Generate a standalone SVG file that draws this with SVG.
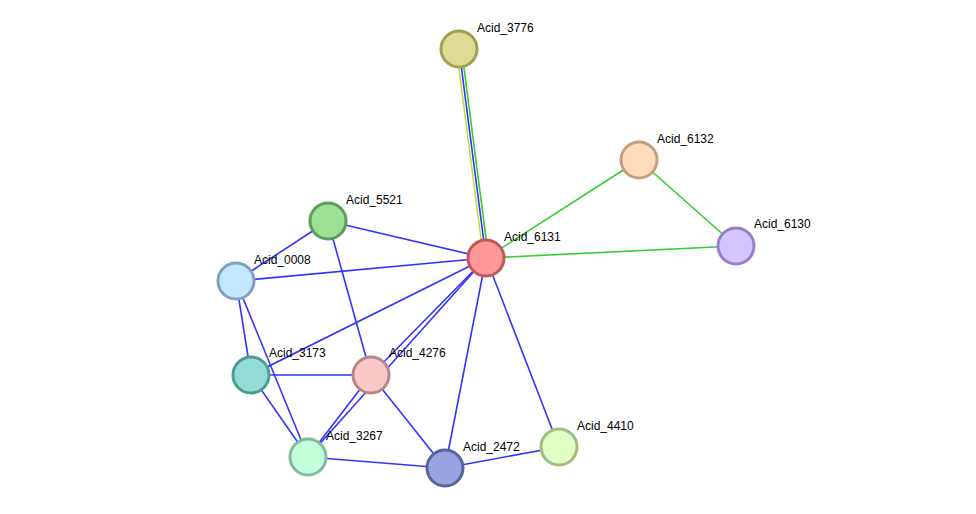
<svg xmlns="http://www.w3.org/2000/svg" width="976" height="514" viewBox="0 0 976 514">
<style>
.e{stroke-width:1.6;fill:none}
.b{stroke:#3333ff}
.g{stroke:#33cc33}
.y{stroke:#c4dc3c}
.n{stroke-width:3}
text{font-family:"Liberation Sans",Arial,sans-serif;font-size:12px;fill:#000}
</style>
<rect width="976" height="514" fill="#fff"/>
<g id="edges">
<line class="e y" x1="456.5" y1="49.3" x2="483.5" y2="258.3"/>
<line class="e b" x1="459" y1="49" x2="486" y2="258"/>
<line class="e g" x1="461.5" y1="48.7" x2="488.5" y2="257.7"/>
<line class="e g" x1="486" y1="258" x2="639" y2="160"/>
<line class="e g" x1="486" y1="258" x2="736" y2="246"/>
<line class="e g" x1="639" y1="160" x2="736" y2="246"/>
<line class="e b" x1="486" y1="258" x2="328" y2="221"/>
<line class="e b" x1="486" y1="258" x2="236" y2="281"/>
<line class="e b" x1="486" y1="258" x2="251" y2="375"/>
<line class="e b" x1="486" y1="258" x2="371" y2="375"/>
<line class="e b" x1="486" y1="258" x2="308" y2="457"/>
<line class="e b" x1="486" y1="258" x2="445" y2="468"/>
<line class="e b" x1="486" y1="258" x2="559" y2="447"/>
<line class="e b" x1="328" y1="221" x2="236" y2="281"/>
<line class="e b" x1="328" y1="221" x2="371" y2="375"/>
<line class="e b" x1="236" y1="281" x2="251" y2="375"/>
<line class="e b" x1="236" y1="281" x2="308" y2="457"/>
<line class="e b" x1="251" y1="375" x2="371" y2="375"/>
<line class="e b" x1="251" y1="375" x2="308" y2="457"/>
<line class="e b" x1="371" y1="375" x2="308" y2="457"/>
<line class="e b" x1="371" y1="375" x2="445" y2="468"/>
<line class="e b" x1="308" y1="457" x2="445" y2="468"/>
<line class="e b" x1="445" y1="468" x2="559" y2="447"/>
</g>
<g id="Acid_3776"><circle class="n" cx="459" cy="49" r="18" fill="#dcdc94" stroke="#a0a050"/><text x="477" y="32">Acid_3776</text></g>
<g id="Acid_6132"><circle class="n" cx="639" cy="160" r="18" fill="#ffdcbc" stroke="#c0a080"/><text x="657" y="143">Acid_6132</text></g>
<g id="Acid_6130"><circle class="n" cx="736" cy="246" r="18" fill="#d4c4ff" stroke="#9880c8"/><text x="754" y="228">Acid_6130</text></g>
<g id="Acid_6131"><circle class="n" cx="486" cy="258" r="18" fill="#ff9898" stroke="#c05858"/><text x="504" y="241">Acid_6131</text></g>
<g id="Acid_5521"><circle class="n" cx="328" cy="221" r="18" fill="#9ce094" stroke="#5c9c58"/><text x="346" y="204">Acid_5521</text></g>
<g id="Acid_0008"><circle class="n" cx="236" cy="281" r="18" fill="#c4e8ff" stroke="#80a4bc"/><text x="254" y="264">Acid_0008</text></g>
<g id="Acid_3173"><circle class="n" cx="251" cy="375" r="18" fill="#94dcd4" stroke="#509c94"/><text x="269" y="357">Acid_3173</text></g>
<g id="Acid_4276"><circle class="n" cx="371" cy="375" r="18" fill="#f8c8c8" stroke="#b88888"/><text x="389" y="357">Acid_4276</text></g>
<g id="Acid_3267"><circle class="n" cx="308" cy="457" r="18" fill="#c4ffdc" stroke="#80bc9c"/><text x="326" y="440">Acid_3267</text></g>
<g id="Acid_2472"><circle class="n" cx="445" cy="468" r="18" fill="#98a4e0" stroke="#5864a0"/><text x="463" y="451">Acid_2472</text></g>
<g id="Acid_4410"><circle class="n" cx="559" cy="447" r="18" fill="#e0ffc4" stroke="#a0bc80"/><text x="577" y="430">Acid_4410</text></g>
</svg>
